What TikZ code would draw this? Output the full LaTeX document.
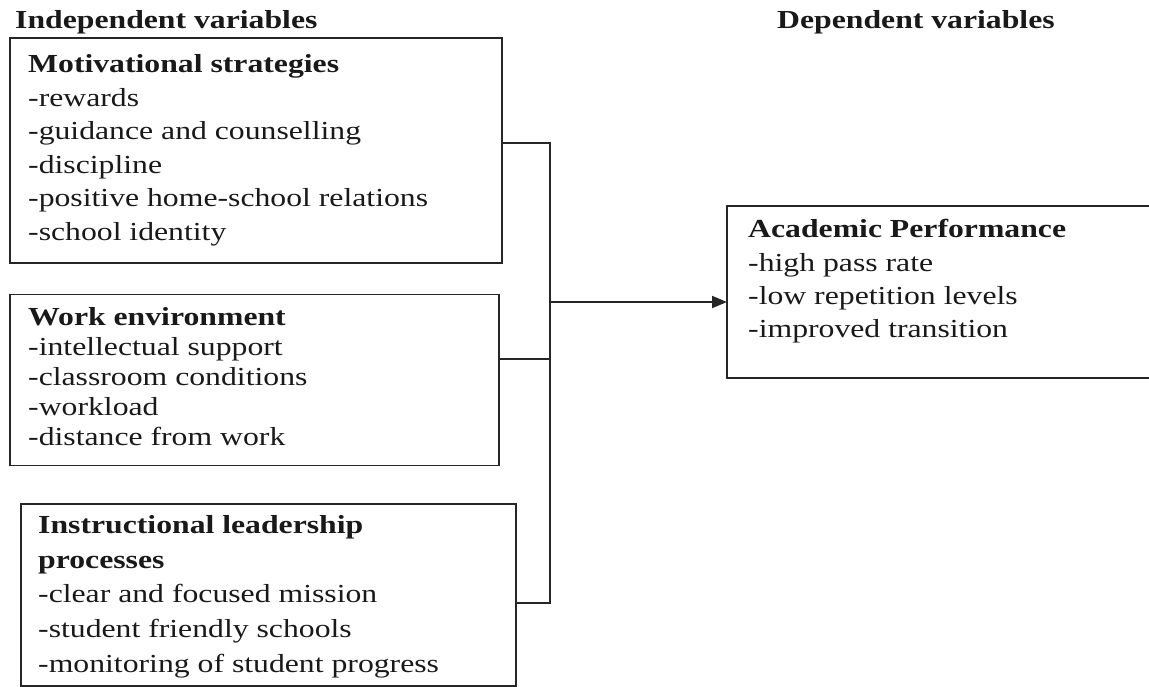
\documentclass[tikz,border=0pt]{standalone}
\usepackage{fontspec}
\setmainfont{Liberation Serif}[FakeStretch=1.22]
\usetikzlibrary{arrows.meta}
\begin{document}
\begin{tikzpicture}[x=1pt,y=-1pt,
  box/.style={draw=black!85, line width=1.8pt, anchor=north west, inner sep=0pt, outer sep=0pt},
  txt/.style={anchor=north west, inner sep=0pt, align=left, text=black!90},
  head/.style={txt, font=\fontsize{26}{30}\selectfont\bfseries},
  link/.style={draw=black!85, line width=1.8pt},
  tip/.style={-{Triangle[length=15pt,width=12pt]}}
  ]
\useasboundingbox (0,0) rectangle (1149,686);
% boxes
\node[box, minimum width=492pt, minimum height=225pt] (b1) at (10,38) {};
\node[box, minimum width=489pt, minimum height=171pt] (b2) at (10,294.5) {};
\node[box, minimum width=495pt, minimum height=182pt] (b3) at (21,504) {};
\node[box, minimum width=440pt, minimum height=172pt] (b4) at (727,206) {};
% headings
\node[head] (t0) at (15,10.2) {Independent variables};
\node[head] (t5) at (777,10.2) {Dependent variables};
% texts
\node[txt, font=\fontsize{26}{33.6}\selectfont] (t1) at (28,54.2)
  {\textbf{Motivational strategies}\\-rewards\\-guidance and counselling\\-discipline\\-positive home-school relations\\-school identity};
\node[txt, font=\fontsize{26}{30}\selectfont] (t2) at (28,307.2)
  {\textbf{Work environment}\\-intellectual support\\-classroom conditions\\-workload\\-distance from work};
\node[txt, font=\fontsize{26}{34.75}\selectfont] (t3) at (38,515.2)
  {\textbf{Instructional leadership}\\\textbf{processes}\\-clear and focused mission\\-student friendly schools\\-monitoring of student progress};
\node[txt, font=\fontsize{26}{33.3}\selectfont] (t4) at (748,219.2)
  {\textbf{Academic Performance}\\-high pass rate\\-low repetition levels\\-improved transition};
% connectors
\coordinate (jt) at (550,143);
\coordinate (jm) at (550,359);
\coordinate (ja) at (550,302);
\coordinate (jb) at (550,603);
\draw[link] ([yshift=7.5pt]b1.east) -- (jt) -- (jb) -- ([yshift=-8pt]b3.east);
\draw[link] ([yshift=21pt]b2.east) -- (jm);
\draw[link, tip] (ja) -- (ja -| b4.west);
\end{tikzpicture}
\end{document}
